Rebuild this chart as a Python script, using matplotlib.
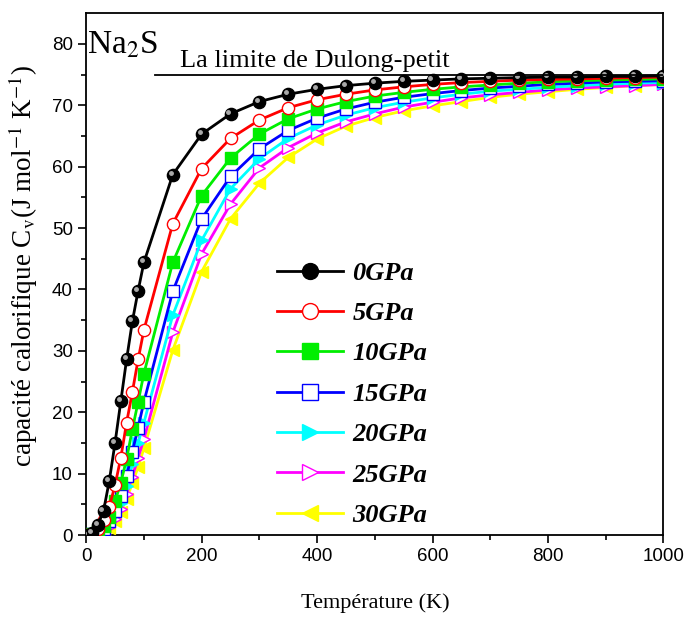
import numpy as np
import matplotlib
matplotlib.use("Agg")
import matplotlib.pyplot as plt
from matplotlib.transforms import ScaledTranslation

# Temperatures (K)
temperature = [0, 10, 20, 30, 40, 50, 60, 70, 80, 90, 100,
               150, 200, 250, 300, 350, 400, 450, 500, 550, 600,
               650, 700, 750, 800, 850, 900, 950, 1000]

# Cv (J mol-1 K-1) par pression
cv_0gpa = [0, 0.3, 1.6, 3.9, 8.8, 15.0, 21.8, 28.6, 34.8, 39.8, 44.4,
           58.7, 65.3, 68.6, 70.6, 71.8, 72.6, 73.2, 73.6, 73.9, 74.1,
           74.3, 74.4, 74.5, 74.6, 74.6, 74.7, 74.7, 74.8]
cv_5gpa = [0, 0.2, 1.0, 2.4, 4.6, 8.1, 12.6, 18.3, 23.3, 28.6, 33.4,
           50.7, 59.7, 64.6, 67.6, 69.6, 70.9, 71.8, 72.5, 73.0, 73.4,
           73.7, 73.9, 74.1, 74.2, 74.3, 74.4, 74.5, 74.6]
cv_10gpa = [0, 0.1, 0.6, 1.5, 3.0, 5.5, 8.5, 12.4, 17.2, 21.7, 26.3,
            44.4, 55.3, 61.4, 65.3, 67.8, 69.4, 70.6, 71.5, 72.1, 72.6,
            73.0, 73.3, 73.6, 73.8, 74.0, 74.1, 74.2, 74.3]
cv_15gpa = [0, 0.1, 0.4, 1.0, 2.2, 3.9, 6.3, 9.6, 13.6, 17.5, 21.7,
            39.7, 51.5, 58.4, 62.9, 65.9, 67.9, 69.4, 70.5, 71.3, 71.9,
            72.4, 72.8, 73.1, 73.4, 73.6, 73.8, 73.9, 74.0]
cv_20gpa = [0, 0.1, 0.3, 0.8, 1.7, 3.2, 5.2, 8.0, 11.5, 15.0, 18.3,
            35.8, 48.0, 56.4, 61.3, 64.6, 66.8, 68.4, 69.6, 70.5, 71.2,
            71.8, 72.3, 72.6, 72.9, 73.2, 73.4, 73.6, 73.7]
cv_25gpa = [0, 0.1, 0.2, 0.6, 1.3, 2.6, 4.3, 6.7, 9.5, 12.6, 15.6,
            33.0, 45.8, 53.9, 59.8, 63.1, 65.5, 67.3, 68.6, 69.7, 70.5,
            71.2, 71.7, 72.1, 72.5, 72.8, 73.0, 73.2, 73.4]
cv_30gpa = [0, 0.1, 0.2, 0.5, 1.2, 2.3, 3.8, 5.9, 8.4, 11.1, 14.1,
            30.1, 42.9, 51.5, 57.3, 61.5, 64.5, 66.6, 68.0, 69.1, 69.9,
            70.6, 71.3, 71.8, 72.2, 72.6, 72.9, 73.2, 73.4]

labels = ["0GPa", "5GPa", "10GPa", "15GPa", "20GPa", "25GPa", "30GPa"]
dulong_petit = 75.0
dulong_debut = 120

series = [cv_0gpa, cv_5gpa, cv_10gpa, cv_15gpa, cv_20gpa, cv_25gpa, cv_30gpa]
couleurs = ["black", "red", "#00ee00", "blue", "cyan", "magenta", "yellow"]
marqueurs = ["o", "o", "s", "s", ">", ">", "<"]
remplis = [True, False, True, False, True, False, True]

fig = plt.figure(figsize=(6.84, 6.19), dpi=100)
ax = fig.add_axes([0.126, 0.1357, 0.844, 0.843])

for i, (cv, c, m, f, lab) in enumerate(zip(series, couleurs, marqueurs, remplis, labels)):
    ax.plot(temperature, cv, color=c, lw=2, marker=m, markersize=8.8,
            markerfacecolor=c if f else "white", markeredgecolor=c,
            markeredgewidth=1.0, label=lab, zorder=10 - i)

# reflet des boules noires
decal = ScaledTranslation(-1.5 / 72, 1.5 / 72, fig.dpi_scale_trans)
ax.plot(temperature, cv_0gpa, ls="none", marker="o", markersize=2.5,
        color="#aaaaaa", transform=ax.transData + decal, zorder=11)

ax.plot([dulong_debut, 1000], [dulong_petit, dulong_petit], color="black", lw=1.3, zorder=12)
ax.text(162, 76.3, "La limite de Dulong-petit", fontsize=19,
        family="Liberation Serif", ha="left", va="baseline")
ax.text(2, 78.4, "Na$_2$S", fontsize=24, family="Liberation Serif",
        ha="left", va="baseline", math_fontfamily="stix")

ax.set_xlim(0, 1000)
ax.set_ylim(0, 85)
ax.set_xticks(range(0, 1001, 200))
ax.set_xticks(range(0, 1001, 100), minor=True)
ax.set_yticks(range(0, 81, 10))
ax.set_yticks(range(0, 81, 5), minor=True)
ax.tick_params(which="major", direction="out", length=6, width=1.2, labelsize=13.5)
ax.tick_params(which="minor", direction="out", length=3.5, width=1.2)
for lbl in ax.get_xticklabels() + ax.get_yticklabels():
    lbl.set_family("Liberation Sans")
for s in ax.spines.values():
    s.set_linewidth(1.3)

ax.set_xlabel("Température (K)", fontsize=16, family="Liberation Serif", labelpad=20)
ax.set_ylabel("capacité calorifique C$_\\mathrm{v}$(J mol$^{-1}$ K$^{-1}$)",
              fontsize=19.5, family="Liberation Serif", labelpad=4,
              math_fontfamily="stix")
ax.yaxis.set_label_coords(-0.08, 0.515)

leg = ax.legend(loc="lower left", bbox_to_anchor=(0.29, -0.03), frameon=False,
                handlelength=2.5, labelspacing=0.64, handletextpad=0.35,
                markerscale=1.3,
                prop={"family": "Liberation Serif", "style": "italic",
                      "weight": "bold", "size": 19})

fig.savefig("out.png", dpi=100)
